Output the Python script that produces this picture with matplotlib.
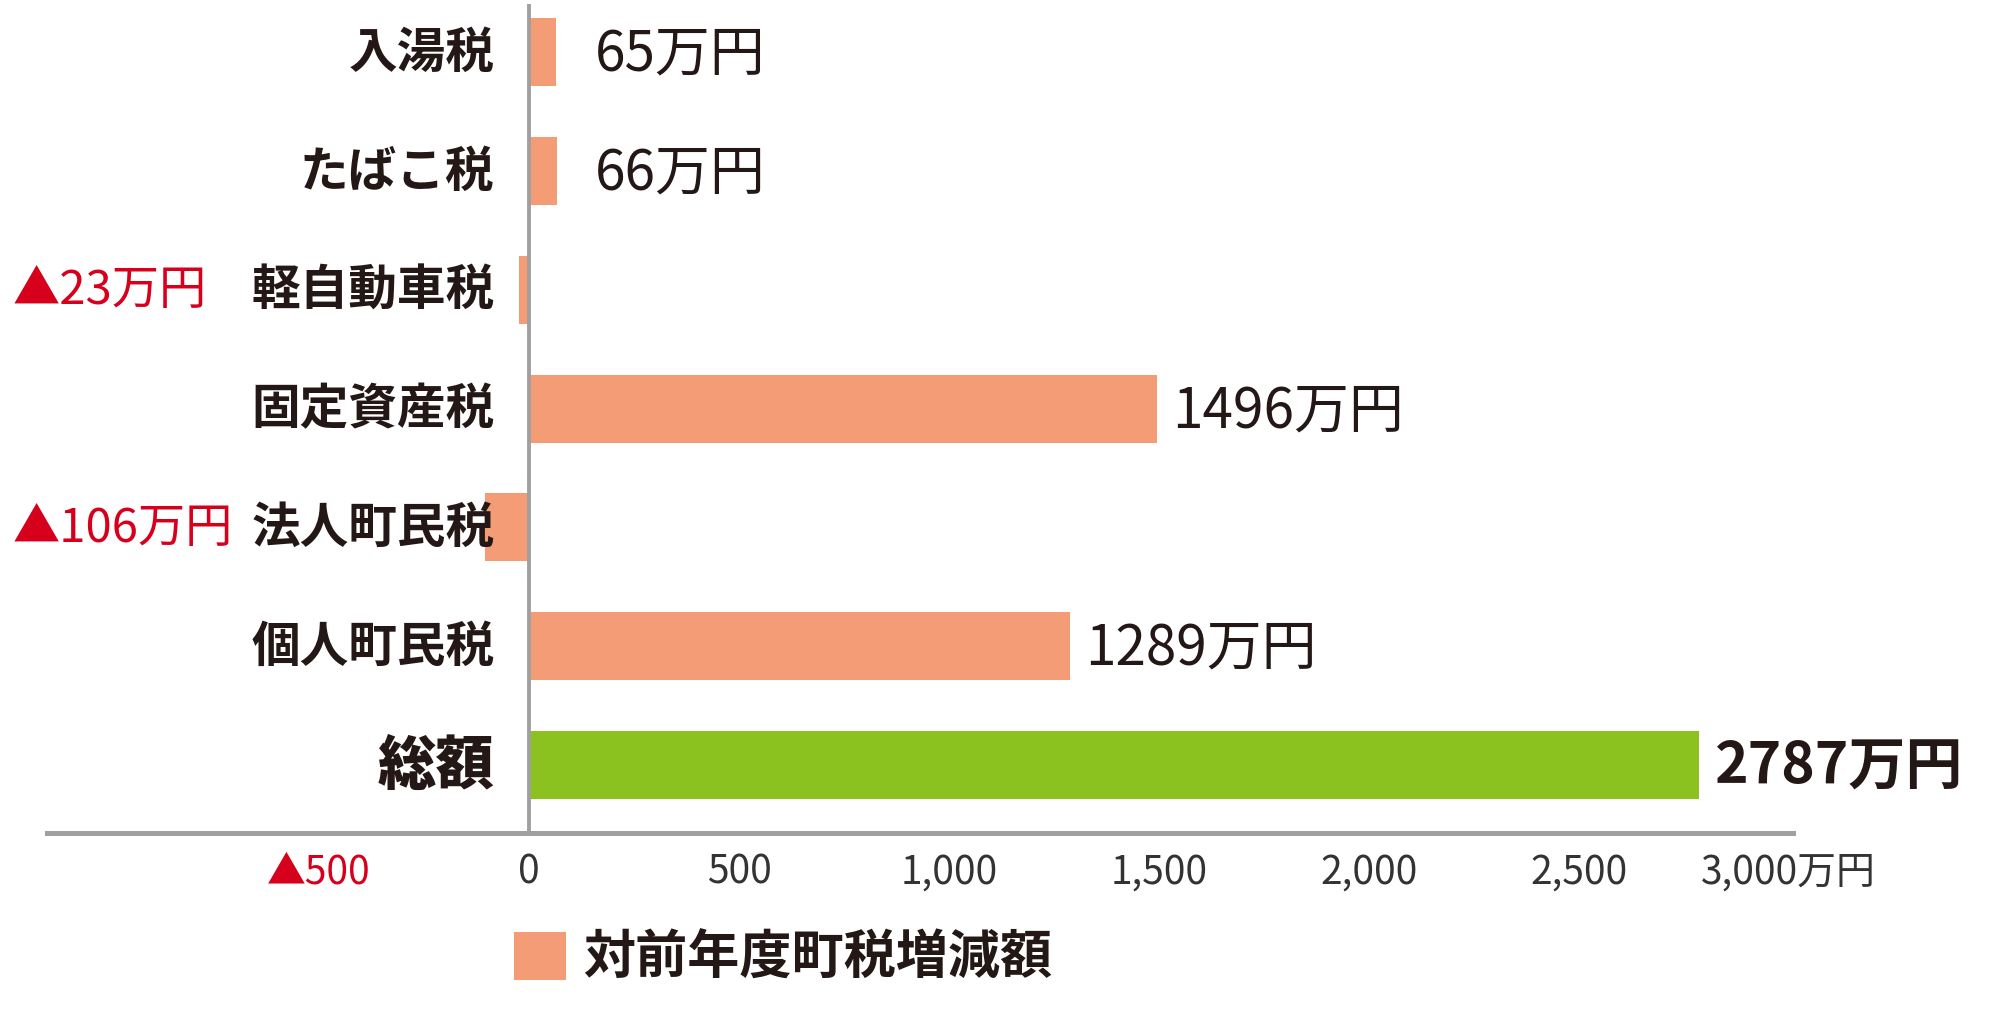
#!/usr/bin/env python3
"""
対前年度町税増減額の横棒グラフ
"""

import matplotlib
matplotlib.use('Agg')
import matplotlib.pyplot as plt
import matplotlib.transforms as mtransforms
from matplotlib.patches import Patch

plt.rcParams['font.family'] = ['Noto Sans CJK JP', 'DejaVu Sans']

# データ（上から順）
CATEGORIES = ['入湯税', 'たばこ税', '軽自動車税', '固定資産税', '法人町民税', '個人町民税', '総額']
VALUES = [65, 66, -23, 1496, -106, 1289, 2787]
TICKS = [-500, 0, 500, 1000, 1500, 2000, 2500, 3000]
TICK_LABELS = ['▲500', '0', '500', '1,000', '1,500', '2,000', '2,500', '3,000万円']
LEGEND_LABEL = '対前年度町税増減額'
UNIT = '万円'

ORANGE = '#f39c75'
GREEN = '#8cc21f'
RED = '#d7001c'
GRAY = '#a0a0a0'
TEXT = '#231815'


def main():
    W, H = 2000, 1014
    fig = plt.figure(figsize=(W / 100, H / 100), dpi=100)
    fig.patch.set_facecolor('white')

    # 軸の位置（ピクセルから換算）
    left_px, right_px, top_px, bottom_px = 47, 1793, 4, 833
    ax = fig.add_axes([left_px / W, 1 - bottom_px / H,
                       (right_px - left_px) / W, (bottom_px - top_px) / H])

    n = len(CATEGORIES)
    ys = [n - 1 - i for i in range(n)]
    colors = [GREEN if c == '総額' else ORANGE for c in CATEGORIES]

    ax.barh(ys, VALUES, height=0.572, color=colors, zorder=2)
    ax.axvline(0, color=GRAY, lw=2.8, zorder=3)

    ax.set_xlim(-1148, 3010)
    ax.set_ylim(-0.572, 6.404)

    # 枠線
    for side in ['top', 'right', 'left']:
        ax.spines[side].set_visible(False)
    ax.spines['bottom'].set_color(GRAY)
    ax.spines['bottom'].set_linewidth(3.6)

    ax.set_yticks([])
    ax.set_xticks(TICKS)
    ax.set_xticklabels(TICK_LABELS, fontsize=28, color='#333333')
    ax.tick_params(axis='x', length=0, pad=14)
    ax.get_xticklabels()[0].set_color(RED)

    left_trans = mtransforms.blended_transform_factory(fig.transFigure, ax.transData)

    for cat, val, y in zip(CATEGORIES, VALUES, ys):
        is_total = (cat == '総額')

        # カテゴリ名
        ax.annotate(cat, xy=(0, y), xytext=(-25, -1), textcoords='offset points',
                    ha='right', va='center', fontsize=42 if is_total else 35,
                    fontweight='heavy' if is_total else 'bold', color=TEXT, zorder=4)

        # 数値ラベル
        if val < 0:
            ax.annotate(f'▲{abs(val)}{UNIT}', xy=(13 / W, y), xycoords=left_trans,
                        xytext=(0, -1), textcoords='offset points',
                        ha='left', va='center', fontsize=34, color=RED)
        else:
            ax.annotate(f'{val}{UNIT}', xy=(max(val, 120), y), xytext=(11, -2),
                        textcoords='offset points', ha='left', va='center',
                        fontsize=41 if is_total else 39.5,
                        fontweight='bold' if is_total else 'normal', color=TEXT)

    # 凡例
    handle = Patch(facecolor=ORANGE, edgecolor='none')
    fig.legend([handle], [LEGEND_LABEL], loc='upper left',
               bbox_to_anchor=(514 / W, 1 - 932 / H), bbox_transform=fig.transFigure,
               frameon=False, borderpad=0, borderaxespad=0,
               handlelength=1.0, handleheight=1.05, handletextpad=0.33,
               prop={'size': 37.5, 'weight': 'bold'})
    leg_text = fig.legends[0].get_texts()[0]
    leg_text.set_color(TEXT)

    plt.savefig('out.png', dpi=100, facecolor='white')
    plt.close()


if __name__ == '__main__':
    main()
